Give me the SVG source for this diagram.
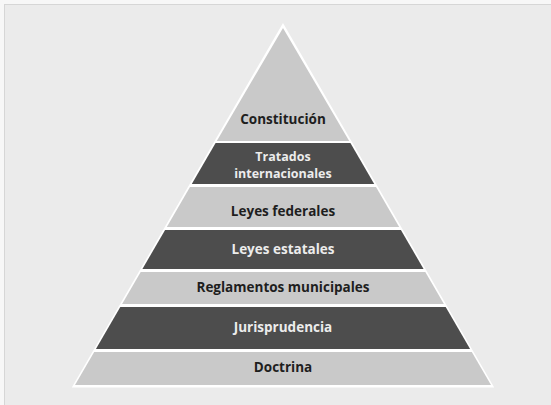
<svg xmlns="http://www.w3.org/2000/svg" width="551" height="405" viewBox="0 0 551 405">
<style>
.light{fill:#c9c9c9}
.dark{fill:#4d4d4d}
.tl{font-family:"Open Sans","Liberation Sans",sans-serif;font-weight:700;font-size:13.5px;text-anchor:middle;fill:#1e1e1e}
.td{font-family:"Open Sans","Liberation Sans",sans-serif;font-weight:700;font-size:13.5px;text-anchor:middle;fill:#ececec}
.sm{font-size:12.5px}
</style>
<rect x="0" y="0" width="551" height="405" fill="#f7f7f7"/>
<rect x="4.5" y="4.5" width="547" height="401" fill="#ebebeb" stroke="#d6d6d6" stroke-width="1"/>
<g id="outline">
<polygon points="283,25 492.5,386.5 73.5,386.5" fill="#ffffff" stroke="#ffffff" stroke-width="2" stroke-linejoin="miter"/>
</g>
<g id="constitucion">
<polygon class="light" points="283,28 349.2,141 216.8,141"/>
<text class="tl" x="283" y="124">Constitución</text>
</g>
<g id="tratados">
<polygon class="dark" points="215.6,143 350.4,143 374.2,184 191.8,184"/>
<text class="td sm" x="283" y="161">Tratados</text>
<text class="td sm" x="283" y="178">internacionales</text>
</g>
<g id="leyes-federales">
<polygon class="light" points="190,187 376,187 399.2,227 166.8,227"/>
<text class="tl" x="283" y="216">Leyes federales</text>
</g>
<g id="leyes-estatales">
<polygon class="dark" points="165.1,230 400.9,230 423.6,269 142.4,269"/>
<text class="td" x="283" y="254">Leyes estatales</text>
</g>
<g id="reglamentos">
<polygon class="light" points="140.7,272 425.3,272 443.9,304 122.1,304"/>
<text class="tl" x="283" y="292">Reglamentos municipales</text>
</g>
<g id="jurisprudencia">
<polygon class="dark" points="120.3,307 445.7,307 470.1,349 95.9,349"/>
<text class="td" x="283" y="332">Jurisprudencia</text>
</g>
<g id="doctrina">
<polygon class="light" points="94.2,352 471.8,352 491,385 75,385"/>
<text class="tl" x="283" y="372">Doctrina</text>
</g>
<g id="connectors"></g>
</svg>
